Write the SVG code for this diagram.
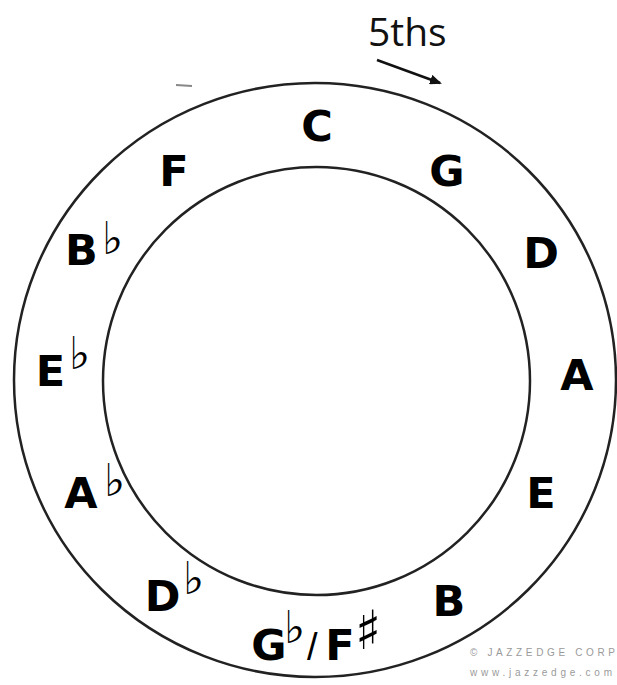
<svg xmlns="http://www.w3.org/2000/svg" width="617" height="685" viewBox="0 0 617 685">
<style>
.n{font-family:"DejaVu Sans","Liberation Sans",sans-serif;font-weight:bold;font-size:43px;fill:#000;text-anchor:middle}
.acc{font-family:"DejaVu Sans",sans-serif;font-size:45px;fill:#000}
.sh{font-family:"DejaVu Sans",sans-serif;font-size:54px;fill:#000}
.sl{font-family:"Liberation Sans",Arial,sans-serif;font-size:38px;fill:#000}
.ring{fill:none;stroke:#222;stroke-width:2.5}
.copy{font-family:"Liberation Sans",Arial,sans-serif;font-size:10px;fill:#9a9a9a}
.lbl{font-family:"Open Sans","Liberation Sans",sans-serif;font-size:39px;fill:#111}
</style>
<defs>
<marker id="ah" markerWidth="12" markerHeight="10" refX="10" refY="5" orient="auto" markerUnits="userSpaceOnUse"><path d="M0,0 L12,5 L0,10 Z" fill="#111"/></marker>
</defs>
<rect width="617" height="685" fill="#fff"/>
<g id="rings">
<ellipse class="ring" cx="315" cy="380" rx="301" ry="297"/>
<ellipse class="ring" cx="316.5" cy="381" rx="213.5" ry="214"/>
<path d="M176,85 L192,86" stroke="#888" stroke-width="2" fill="none"/>
</g>
<g id="connectors">
<text class="lbl" x="368" y="46">5ths</text>
<line x1="377" y1="60" x2="440" y2="83" stroke="#111" stroke-width="2.5" marker-end="url(#ah)"/>
</g>
<g id="C"><text class="n" x="317" y="141">C</text></g>
<g id="G"><text class="n" x="447" y="186">G</text></g>
<g id="D"><text class="n" x="541" y="268">D</text></g>
<g id="A"><text class="n" x="577" y="390">A</text></g>
<g id="E"><text class="n" x="541" y="508">E</text></g>
<g id="B"><text class="n" x="449" y="616">B</text></g>
<g id="Gb-Fs">
<text class="n" x="269" y="660">G</text>
<text class="acc" x="284" y="643">♭</text>
<text class="sl" x="307" y="660">/</text>
<text class="n" x="340" y="660">F</text>
<text class="sh" x="355" y="649">♯</text>
</g>
<g id="Db"><text class="n" x="162.5" y="611">D</text><text class="acc" x="183" y="594">♭</text></g>
<g id="Ab"><text class="n" x="81" y="508">A</text><text class="acc" x="104" y="496">♭</text></g>
<g id="Eb"><text class="n" x="50.5" y="386">E</text><text class="acc" x="69" y="369">♭</text></g>
<g id="Bb"><text class="n" x="81.5" y="265">B</text><text class="acc" x="102" y="254">♭</text></g>
<g id="F"><text class="n" x="174" y="186">F</text></g>
<g id="copyright">
<text class="copy" x="470" y="656" textLength="145" lengthAdjust="spacing">© JAZZEDGE CORP</text>
<text class="copy" x="470" y="676" textLength="142" lengthAdjust="spacing">www.jazzedge.com</text>
</g>
</svg>
